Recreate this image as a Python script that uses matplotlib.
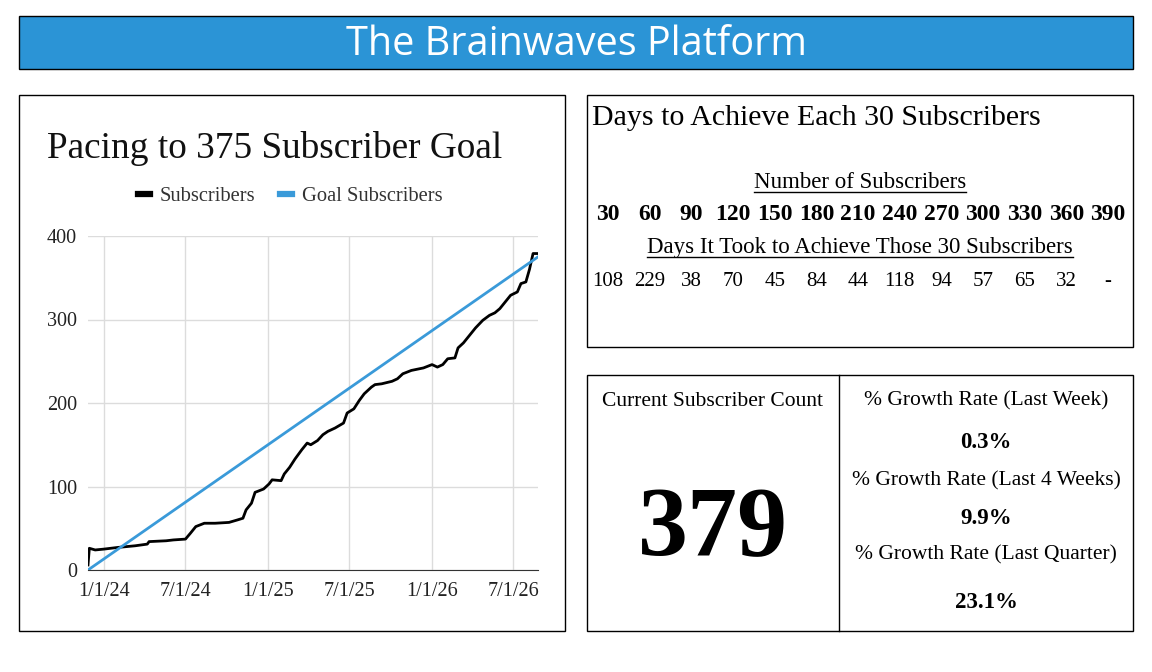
import matplotlib
matplotlib.use("Agg")
import matplotlib.pyplot as plt
from matplotlib.patches import Rectangle
from matplotlib.lines import Line2D
import numpy as np
import pandas as pd

# dados
sub_dates = ["2023-11-27", "2023-11-30", "2023-12-13", "2024-01-01", "2024-02-01", "2024-03-11",
             "2024-04-07", "2024-04-11", "2024-05-19", "2024-06-04", "2024-07-01", "2024-07-12",
             "2024-07-24", "2024-08-12", "2024-09-05", "2024-10-06", "2024-10-25", "2024-11-06",
             "2024-11-13", "2024-11-25", "2024-12-03", "2024-12-22", "2025-01-03", "2025-01-10",
             "2025-01-30", "2025-02-06", "2025-02-18", "2025-03-02", "2025-03-17", "2025-03-29",
             "2025-04-06", "2025-04-21", "2025-05-03", "2025-05-14", "2025-05-30", "2025-06-18",
             "2025-06-26", "2025-07-11", "2025-07-23", "2025-08-03", "2025-08-19", "2025-08-27",
             "2025-09-11", "2025-10-04", "2025-10-16", "2025-10-28", "2025-11-16", "2025-12-13",
             "2026-01-01", "2026-01-13", "2026-01-25", "2026-02-05", "2026-02-21", "2026-02-28",
             "2026-03-12", "2026-03-24", "2026-04-08", "2026-04-24", "2026-05-09", "2026-05-21",
             "2026-06-01", "2026-06-13", "2026-06-25", "2026-07-10", "2026-07-18", "2026-07-29",
             "2026-08-06", "2026-08-14", "2026-08-25"]
sub_values = [6, 26, 24, 25, 27, 29,
              31, 34, 35, 36, 37, 44,
              52, 56, 56, 57, 60, 62,
              72, 80, 93, 97, 103, 108,
              107, 115, 123, 133, 144, 152,
              150, 155, 162, 166, 170, 176,
              188, 193, 203, 211, 219, 222,
              223, 226, 229, 235, 239, 242,
              246, 243, 246, 253, 254, 266,
              272, 280, 290, 299, 305, 308,
              313, 321, 329, 333, 343, 345,
              360, 379, 379]
goal_dates = ["2023-11-27", "2026-08-25"]
goal_values = [0, 375]

x_ticks = ["2024-01-01", "2024-07-01", "2025-01-01", "2025-07-01", "2026-01-01", "2026-07-01"]
x_tick_labels = ["1/1/24", "7/1/24", "1/1/25", "7/1/25", "1/1/26", "7/1/26"]
y_ticks = [0, 100, 200, 300, 400]

milestones = ["30", "60", "90", "120", "150", "180", "210", "240", "270", "300", "330", "360", "390"]
days_taken = ["108", "229", "38", "70", "45", "84", "44", "118", "94", "57", "65", "32", "-"]

current_count = "379"
growth_labels = ["% Growth Rate (Last Week)", "% Growth Rate (Last 4 Weeks)", "% Growth Rate (Last Quarter)"]
growth_values = ["0.3%", "9.9%", "23.1%"]

W, H = 1152, 672
SERIF = "Liberation Serif"
BLUE = "#2b94d6"

fig = plt.figure(figsize=(W / 100, H / 100), dpi=100)
fig.patch.set_facecolor("white")


def fx(x):
    return x / W


def fy(y):
    return 1 - y / H


def box(x0, y0, x1, y1, fc="white", lw=1.0):
    r = Rectangle((fx(x0), fy(y1)), (x1 - x0) / W, (y1 - y0) / H, transform=fig.transFigure,
                  facecolor=fc, edgecolor="black", linewidth=lw, zorder=0)
    fig.add_artist(r)


def txt(x, y, s, size, weight="normal", ha="center", family=SERIF, color="black", underline=False):
    # +3 px: o centro do bbox inclui a descida das letras
    t = fig.text(fx(x), fy(y + 3), s, fontsize=size, fontweight=weight, ha=ha, va="center",
                 family=family, color=color)
    if underline:
        r = fig.canvas.get_renderer()
        bb = t.get_window_extent(renderer=r)
        yl = bb.y0 + 2
        fig.add_artist(Line2D([bb.x0 / W, bb.x1 / W], [yl / H, yl / H], transform=fig.transFigure,
                              color="black", lw=1))
    return t


# cabeçalho
box(19, 16, 1133, 69, fc=BLUE)
txt(576, 42, "The Brainwaves Platform", 28.5, family="Open Sans", color="white")

# painel do gráfico
box(19, 95, 565, 631)
txt(47, 145, "Pacing to 375 Subscriber Goal", 26.8, ha="left", color="#111111")

ax = fig.add_axes([fx(88), fy(570), (538 - 88) / W, (570 - 236) / H])
sd = pd.to_datetime(sub_dates)
gd = pd.to_datetime(goal_dates)
ax.plot(sd, sub_values, color="black", lw=2, label="Subscribers", zorder=3)
ax.plot(gd, goal_values, color="#3a9ad9", lw=2, label="Goal Subscribers", zorder=4)
ax.set_xlim(gd[0], gd[-1])
ax.set_ylim(0, 400)
ax.set_xticks(pd.to_datetime(x_ticks))
ax.set_xticklabels(x_tick_labels)
ax.set_yticks(y_ticks)
ax.grid(True, color="#dcdcdc", lw=1)
ax.set_axisbelow(True)
for s in ["top", "right", "left"]:
    ax.spines[s].set_visible(False)
ax.spines["bottom"].set_color("#333333")
ax.tick_params(length=0, labelsize=14.5, labelcolor="#222222")
ax.tick_params(axis="y", pad=8)
ax.tick_params(axis="x", pad=9)
for lab in ax.get_xticklabels() + ax.get_yticklabels():
    lab.set_family(SERIF)
leg = ax.legend(loc="lower center", bbox_to_anchor=(0.45, 1.035), ncol=2, frameon=False,
                handlelength=0.55, handletextpad=0.5, columnspacing=1.2,
                prop={"family": SERIF, "size": 14.8})
for h in leg.legend_handles:
    h.set_linewidth(4.5)
for t in leg.get_texts():
    t.set_color("#333333")

# painel de dias
box(587, 95, 1133, 347)
txt(592, 115, "Days to Achieve Each 30 Subscribers", 21.5, ha="left")
txt(860, 180, "Number of Subscribers", 16.5, underline=True)
cols = np.linspace(608, 1108, len(milestones))
for cx, m in zip(cols, milestones):
    txt(cx, 212, m, 17, weight="bold")
txt(860, 245, "Days It Took to Achieve Those 30 Subscribers", 16.5, underline=True)
for cx, d in zip(cols, days_taken):
    txt(cx, 278, d, 15)

# painel de métricas
box(587, 375, 1133, 631)
fig.add_artist(Line2D([fx(839), fx(839)], [fy(375), fy(631)], transform=fig.transFigure,
                      color="black", lw=1))
txt(713, 398, "Current Subscriber Count", 15.5)
txt(713, 528, current_count, 72, weight="bold")
label_y = [398, 478, 552]
value_y = [440, 516, 600]
for lab, ly in zip(growth_labels, label_y):
    txt(986, ly, lab, 15.5)
for v, vy in zip(growth_values, value_y):
    txt(986, vy, v, 16.5, weight="bold")

fig.savefig("out.png", dpi=100)
